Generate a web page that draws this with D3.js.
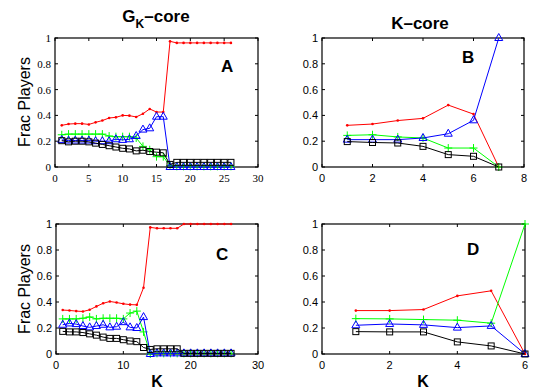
<!DOCTYPE html>
<html>
<head>
<meta charset="utf-8">
<script src="https://cdn.jsdelivr.net/npm/d3@7"></script>
<style>
  body { margin: 0; background: #fff; }
</style>
</head>
<body>
<div id="chart"></div>
<script>
// K values
const kGk = [1, 2, 3, 4, 5, 6, 7, 8, 9, 10, 11, 12, 13, 14, 15, 16, 17, 18, 19, 20, 21, 22, 23, 24, 25, 26];
const kCoreB = [1, 2, 3, 4, 5, 6, 7];
const kCoreD = [1, 2, 3, 4, 5, 6];

// Panel A (G_K-core, top)
const redA   = [0.323, 0.333, 0.336, 0.336, 0.330, 0.346, 0.360, 0.380, 0.385, 0.400, 0.398, 0.388, 0.413, 0.450, 0.426, 0.426, 0.974, 0.962, 0.962, 0.962, 0.962, 0.962, 0.962, 0.962, 0.962, 0.962];
const greenA = [0.250, 0.255, 0.255, 0.255, 0.255, 0.255, 0.255, 0.240, 0.235, 0.235, 0.235, 0.225, 0.160, 0.134, 0.080, 0.080, 0.010, 0.005, 0.005, 0.005, 0.005, 0.005, 0.005, 0.005, 0.005, 0.005];
const blueA  = [0.210, 0.205, 0.205, 0.205, 0.205, 0.200, 0.200, 0.200, 0.215, 0.210, 0.215, 0.240, 0.290, 0.300, 0.390, 0.390, 0.000, 0.000, 0.000, 0.000, 0.000, 0.000, 0.000, 0.000, 0.000, 0.000];
const blackA = [0.204, 0.195, 0.200, 0.200, 0.195, 0.185, 0.175, 0.165, 0.155, 0.145, 0.140, 0.125, 0.130, 0.120, 0.115, 0.110, 0.020, 0.036, 0.036, 0.036, 0.036, 0.036, 0.036, 0.036, 0.036, 0.036];

// Panel B (K-core, top)
const redB   = [0.323, 0.333, 0.360, 0.377, 0.480, 0.410, 0.000];
const greenB = [0.245, 0.250, 0.233, 0.225, 0.147, 0.147, 0.000];
const blueB  = [0.212, 0.212, 0.212, 0.225, 0.258, 0.362, 1.000];
const blackB = [0.197, 0.190, 0.186, 0.160, 0.096, 0.083, 0.000];

// Panel C (G_K-core, bottom)
const redC   = [0.338, 0.335, 0.330, 0.327, 0.340, 0.366, 0.390, 0.404, 0.396, 0.386, 0.380, 0.378, 0.510, 0.974, 0.967, 0.967, 0.967, 0.967, 1.000, 1.000, 1.000, 1.000, 1.000, 1.000, 1.000, 1.000];
const greenC = [0.270, 0.270, 0.270, 0.275, 0.285, 0.270, 0.275, 0.275, 0.275, 0.270, 0.315, 0.330, 0.170, 0.000, 0.005, 0.005, 0.005, 0.005, 0.005, 0.005, 0.005, 0.005, 0.005, 0.005, 0.005, 0.005];
const blueC  = [0.225, 0.235, 0.230, 0.215, 0.205, 0.215, 0.225, 0.205, 0.210, 0.245, 0.205, 0.200, 0.284, 0.000, 0.005, 0.005, 0.005, 0.005, 0.005, 0.005, 0.005, 0.005, 0.005, 0.005, 0.005, 0.005];
const blackC = [0.174, 0.170, 0.170, 0.165, 0.155, 0.145, 0.130, 0.120, 0.120, 0.110, 0.100, 0.095, 0.050, 0.035, 0.040, 0.040, 0.040, 0.040, 0.005, 0.005, 0.005, 0.005, 0.005, 0.005, 0.005, 0.005];

// Panel D (K-core, bottom)
const redD   = [0.334, 0.334, 0.342, 0.447, 0.486, 0.000];
const greenD = [0.272, 0.270, 0.265, 0.260, 0.237, 1.000];
const blueD  = [0.221, 0.231, 0.224, 0.203, 0.216, 0.000];
const blackD = [0.172, 0.170, 0.170, 0.093, 0.062, 0.000];

const yTicks = [0, 0.2, 0.4, 0.6, 0.8, 1];
const yTickLabels = ['0', '0.2', '0.4', '0.6', '0.8', '1'];

const sans = 'Liberation Sans, Arial, Helvetica, sans-serif';
const serif = 'Liberation Serif, Times New Roman, serif';

const svg = d3.select('#chart')
    .append('svg')
    .attr('width', 536)
    .attr('height', 389);

function drawPanel(p) {
    const x = d3.scaleLinear().domain([0, p.xMax]).range([p.left, p.right]);
    const y = d3.scaleLinear().domain([0, 1]).range([p.bottom, p.top]);
    const g = svg.append('g');
    const tickLen = 3;

    // Frame
    g.append('rect')
        .attr('x', p.left)
        .attr('y', p.top)
        .attr('width', p.right - p.left)
        .attr('height', p.bottom - p.top)
        .attr('fill', 'none')
        .attr('stroke', '#000')
        .attr('stroke-width', 1.2);

    // Ticks on all four sides, pointing inward
    p.xTicks.forEach(t => {
        g.append('line')
            .attr('x1', x(t)).attr('x2', x(t))
            .attr('y1', p.bottom).attr('y2', p.bottom - tickLen)
            .attr('stroke', '#000');
        g.append('line')
            .attr('x1', x(t)).attr('x2', x(t))
            .attr('y1', p.top).attr('y2', p.top + tickLen)
            .attr('stroke', '#000');
        g.append('text')
            .attr('x', x(t))
            .attr('y', p.bottom + 15)
            .attr('text-anchor', 'middle')
            .attr('font-family', p.font)
            .attr('font-size', '11px')
            .text(t);
    });
    yTicks.forEach((t, i) => {
        g.append('line')
            .attr('x1', p.left).attr('x2', p.left + tickLen)
            .attr('y1', y(t)).attr('y2', y(t))
            .attr('stroke', '#000');
        g.append('line')
            .attr('x1', p.right).attr('x2', p.right - tickLen)
            .attr('y1', y(t)).attr('y2', y(t))
            .attr('stroke', '#000');
        g.append('text')
            .attr('x', p.left - 4)
            .attr('y', y(t) + 4)
            .attr('text-anchor', 'end')
            .attr('font-family', p.font)
            .attr('font-size', '11px')
            .text(yTickLabels[i]);
    });

    const line = d3.line()
        .x(d => x(d[0]))
        .y(d => y(d[1]));

    const series = [
        { vals: p.red, color: '#ff0000', marker: 'dot' },
        { vals: p.green, color: '#00ff00', marker: 'plus' },
        { vals: p.blue, color: '#0000ff', marker: 'tri' },
        { vals: p.black, color: '#000000', marker: 'square' }
    ];

    series.forEach(s => {
        const pts = p.k.map((k, i) => [k, s.vals[i]]);
        g.append('path')
            .attr('d', line(pts))
            .attr('fill', 'none')
            .attr('stroke', s.color)
            .attr('stroke-width', 1);

        pts.forEach(d => {
            const cx = x(d[0]), cy = y(d[1]);
            if (s.marker === 'dot') {
                g.append('circle')
                    .attr('cx', cx).attr('cy', cy)
                    .attr('r', 1.3)
                    .attr('fill', s.color);
            } else if (s.marker === 'plus') {
                g.append('path')
                    .attr('d', `M${cx - 4},${cy}H${cx + 4}M${cx},${cy - 4}V${cy + 4}`)
                    .attr('stroke', s.color)
                    .attr('stroke-width', 1);
            } else if (s.marker === 'tri') {
                g.append('path')
                    .attr('d', `M${cx},${cy - 4.5}L${cx + 4},${cy + 2.5}L${cx - 4},${cy + 2.5}Z`)
                    .attr('fill', 'none')
                    .attr('stroke', s.color)
                    .attr('stroke-width', 1);
            } else {
                g.append('rect')
                    .attr('x', cx - 3).attr('y', cy - 3)
                    .attr('width', 6).attr('height', 6)
                    .attr('fill', 'none')
                    .attr('stroke', s.color)
                    .attr('stroke-width', 1);
            }
        });
    });

    // Panel letter
    g.append('text')
        .attr('x', p.letterX)
        .attr('y', p.letterY)
        .attr('font-family', sans)
        .attr('font-size', '17px')
        .attr('font-weight', 'bold')
        .text(p.letter);
}

drawPanel({
    left: 55, right: 258, top: 38, bottom: 167, xMax: 30,
    xTicks: [0, 5, 10, 15, 20, 25, 30], font: serif,
    k: kGk, red: redA, green: greenA, blue: blueA, black: blackA,
    letter: 'A', letterX: 221, letterY: 72
});
drawPanel({
    left: 322, right: 524, top: 38, bottom: 167, xMax: 8,
    xTicks: [0, 2, 4, 6, 8], font: sans,
    k: kCoreB, red: redB, green: greenB, blue: blueB, black: blackB,
    letter: 'B', letterX: 462, letterY: 63
});
drawPanel({
    left: 56, right: 258, top: 224, bottom: 354, xMax: 30,
    xTicks: [0, 10, 20, 30], font: sans,
    k: kGk, red: redC, green: greenC, blue: blueC, black: blackC,
    letter: 'C', letterX: 216, letterY: 260
});
drawPanel({
    left: 322, right: 525, top: 224, bottom: 354, xMax: 6,
    xTicks: [0, 2, 4, 6], font: sans,
    k: kCoreD, red: redD, green: greenD, blue: blueD, black: blackD,
    letter: 'D', letterX: 467, letterY: 255
});

// Column titles
const t1 = svg.append('text')
    .attr('x', 156)
    .attr('y', 22)
    .attr('text-anchor', 'middle')
    .attr('font-family', sans)
    .attr('font-size', '17px')
    .attr('font-weight', 'bold');
t1.append('tspan').text('G');
t1.append('tspan').attr('dy', 6).attr('font-size', '12px').text('K');
t1.append('tspan').attr('dy', -6).text('\u2013core');

svg.append('text')
    .attr('x', 420)
    .attr('y', 29)
    .attr('text-anchor', 'middle')
    .attr('font-family', sans)
    .attr('font-size', '17px')
    .attr('font-weight', 'bold')
    .text('K\u2013core');

// Y labels
[102, 289].forEach(cy => {
    svg.append('text')
        .attr('transform', `translate(30,${cy}) rotate(-90)`)
        .attr('text-anchor', 'middle')
        .attr('font-family', sans)
        .attr('font-size', '16px')
        .text('Frac Players');
});

// X labels
[157, 423].forEach(cx => {
    svg.append('text')
        .attr('x', cx)
        .attr('y', 387)
        .attr('text-anchor', 'middle')
        .attr('font-family', sans)
        .attr('font-size', '16px')
        .attr('font-weight', 'bold')
        .text('K');
});
</script>
</body>
</html>
